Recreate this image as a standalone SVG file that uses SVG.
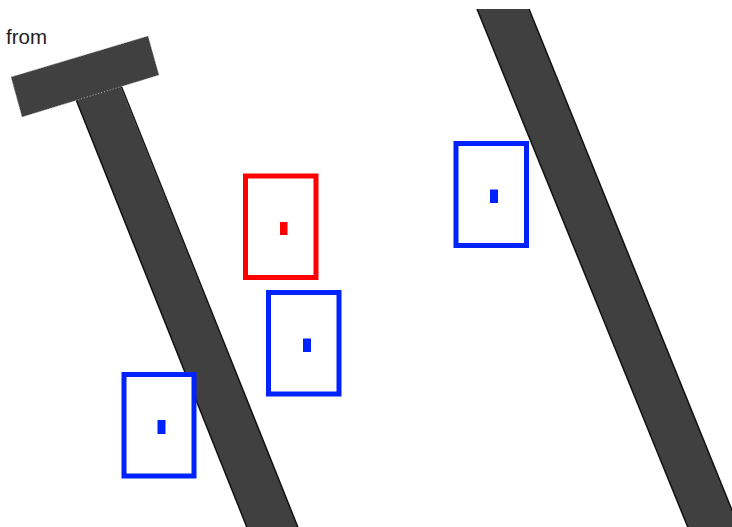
<svg xmlns="http://www.w3.org/2000/svg" width="732" height="527" viewBox="0 0 732 527">
<style>
.bar{fill:#404040;stroke:none}
.edge{stroke:#111;stroke-width:1.5;fill:none}
.top{fill:#404040;stroke:#bbb;stroke-width:1;stroke-dasharray:1 2}
.blue{fill:#fff;stroke:#0022ff;stroke-width:5}
.red{fill:#fff;stroke:#ff0000;stroke-width:5}
.bdot{fill:#0022ff}
.rdot{fill:#ff0000}
text{font-family:"Liberation Sans",Arial,sans-serif;font-size:20.5px;fill:#222}
</style>
<rect width="732" height="527" fill="#fff"/>
<text x="6" y="44">from</text>
<g id="bar-left">
<polygon class="bar" points="72,90 118,80 299,530 248,530"/>
<line class="edge" x1="75" y1="97" x2="248" y2="530"/>
<line class="edge" x1="120" y1="83" x2="299" y2="530"/>
<polygon class="top" points="11,77 148,36 159,75 22,117"/>
</g>
<g id="bar-right">
<polygon class="bar" points="477,9 529,9 740,530 689,530"/>
<line class="edge" x1="477" y1="9" x2="689" y2="530"/>
<line class="edge" x1="529" y1="9" x2="740" y2="530"/>
</g>
<g id="red-box">
<rect class="red" x="245.5" y="176" width="70.5" height="101.5"/>
<rect class="rdot" x="280" y="222" width="7.5" height="13"/>
</g>
<g id="blue-box-1">
<rect class="blue" x="456" y="143.5" width="70.5" height="102"/>
<rect class="bdot" x="490" y="189.5" width="8" height="13.5"/>
</g>
<g id="blue-box-2">
<rect class="blue" x="268.5" y="292.5" width="70.5" height="101.5"/>
<rect class="bdot" x="303" y="338.5" width="8" height="13.5"/>
</g>
<g id="blue-box-3">
<rect class="blue" x="124" y="374.5" width="70" height="101.5"/>
<rect class="bdot" x="157.5" y="420" width="8" height="14"/>
</g>
<g id="connectors"></g>
</svg>
